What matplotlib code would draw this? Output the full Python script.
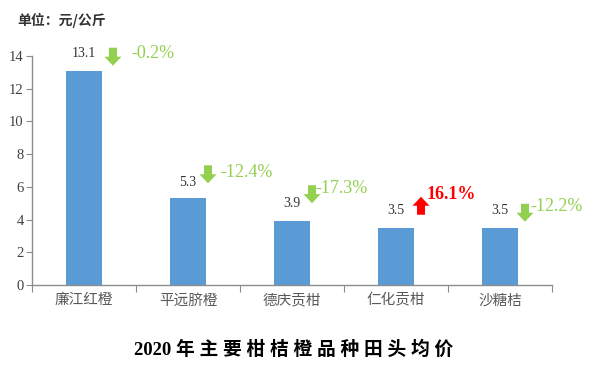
import matplotlib
matplotlib.use("Agg")
import matplotlib.pyplot as plt
from matplotlib.transforms import ScaledTranslation
from matplotlib.patches import Polygon
import numpy as np

categories = ["廉江红橙", "平远脐橙", "德庆贡柑", "仁化贡柑", "沙糖桔"]
prices = [13.1, 5.3, 3.9, 3.5, 3.5]
changes = ["-0.2%", "-12.4%", "-17.3%", "16.1%", "-12.2%"]
directions = ["down", "down", "down", "up", "down"]
yticks = [0, 2, 4, 6, 8, 10, 12, 14]
title = "2020 年主要柑桔橙品种田头均价"
unit = "单位：元/公斤"

CJK = ["Noto Sans CJK SC", "DejaVu Sans"]
SERIF = ["Liberation Serif", "DejaVu Serif"]
BAR = "#5B9BD5"
GREEN = "#92D050"
RED = "#FF0000"
GREY = "#8C8C8C"
TXT = "#404040"

fig = plt.figure(figsize=(6.09, 3.77), dpi=100)
ax = fig.add_axes([32/609, 1-285/377, 520/609, 229/377])

x = np.arange(len(categories))
ax.bar(x, prices, width=0.35, color=BAR, zorder=2)
ax.set_xlim(-0.5, len(categories)-0.5)
ax.set_ylim(0, 14)
ax.set_yticks(yticks)
ax.set_yticklabels([str(t) for t in yticks], fontfamily=SERIF, fontsize=10.5, color=TXT)
ax.tick_params(axis="y", direction="out", length=4, color=GREY, pad=2)

ax.set_xticks(np.arange(-0.5, len(categories)), minor=False)
ax.set_xticklabels([])
ax.set_xticks(x, minor=True)
ax.set_xticklabels(categories, minor=True, fontfamily=CJK, fontsize=10.5, color="#595959")
ax.tick_params(axis="x", which="major", direction="out", length=5, color=GREY)
ax.tick_params(axis="x", which="minor", length=0, pad=6)

for s in ["top", "right"]:
    ax.spines[s].set_visible(False)
for s in ["left", "bottom"]:
    ax.spines[s].set_color(GREY)
    ax.spines[s].set_linewidth(1.0)

# layout offsets (pixels) relative to bar top centre
label_dy = [17, 16, 18, 17, 17]
arrow_dx = [29, 20, 20, 25, 25]
arrow_lo = [5, 15, 18, 13, 6]
pct_dx = [47, 32, 23, 31, 30]
pct_dy = [17, 26, 33, 33, 21]

def arrow_verts(up):
    v = np.array([(0, 0), (-8.5, 9), (-4, 9), (-4, 18), (4, 18), (4, 9), (8.5, 9)], float)
    if up:
        v[:, 1] = 18 - v[:, 1]
    return v

for i, (v, c, d) in enumerate(zip(prices, changes, directions)):
    ax.annotate(f"{v:.1f}", xy=(x[i], v), xytext=(0, label_dy[i]),
                textcoords="offset pixels", ha="center", va="center",
                fontfamily=SERIF, fontsize=10, color="#333333")
    col = RED if d == "up" else GREEN
    verts = arrow_verts(d == "up") + np.array([arrow_dx[i], arrow_lo[i]])
    tr = ScaledTranslation(x[i], v, ax.transData)
    ax.add_patch(Polygon(verts, closed=True, facecolor=col, edgecolor="none",
                         transform=tr, clip_on=False, zorder=3))
    ax.annotate(c, xy=(x[i], v), xytext=(pct_dx[i], pct_dy[i]),
                textcoords="offset pixels", ha="left", va="center",
                fontfamily=SERIF, fontsize=13, color=col,
                fontweight="bold" if d == "up" else "normal")

fig.text(17/609, 1-20/377, unit, fontfamily=CJK, fontsize=10, fontweight="bold",
         color="#333333", ha="left", va="center")
spaced = title.split(" ")[0] + " " + " ".join(title.split(" ")[1])
fig.text(294/609, 1-350/377, spaced, fontfamily=["Liberation Serif", "Noto Sans CJK SC"],
         fontsize=13.5, fontweight="bold", color="black", ha="center", va="center")

fig.savefig("out.png", dpi=100)
